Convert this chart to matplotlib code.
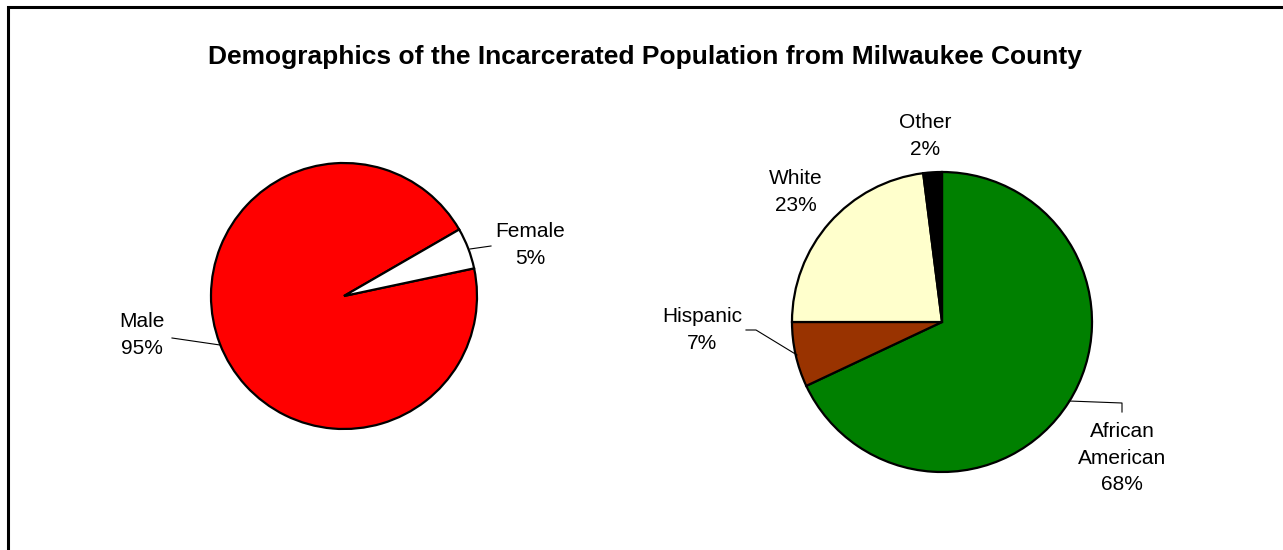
import matplotlib
matplotlib.use("Agg")
import matplotlib.pyplot as plt

plt.rcParams['font.family'] = ['Liberation Sans', 'DejaVu Sans']

title = "Demographics of the Incarcerated Population from Milwaukee County"

gender_labels = ["Male", "Female"]
gender_values = [95, 5]
gender_colors = ["#FF0000", "#FFFFFF"]

race_labels = ["African\nAmerican", "Hispanic", "White", "Other"]
race_values = [68, 7, 23, 2]
race_colors = ["#008000", "#993300", "#FFFFCC", "#000000"]

W, H = 1283, 550
fig = plt.figure(figsize=(W / 100, H / 100), dpi=100)
ax = fig.add_axes([0, 0, 1, 1])

def Y(y):
    return H - y

# left pie: Male/Female
ax.pie(gender_values, center=(344, Y(296)), radius=133, startangle=30,
       counterclock=True, colors=gender_colors,
       wedgeprops=dict(edgecolor="black", linewidth=1.6))

# right pie: race
ax.pie(race_values, center=(942, Y(322)), radius=150, startangle=90,
       counterclock=False, colors=race_colors,
       wedgeprops=dict(edgecolor="black", linewidth=1.6))

fs = 15
ls = 1.5
gender_pos = [(142, 335), (530, 245)]
for lab, v, (x, y) in zip(gender_labels, gender_values, gender_pos):
    ax.text(x, Y(y), f"{lab}\n{v}%", ha="center", va="center", fontsize=fs,
            linespacing=ls)

race_pos = [(1122, 458), (702, 330), (796, 192), (925, 136)]
for lab, v, (x, y) in zip(race_labels, race_values, race_pos):
    ax.text(x, Y(y), f"{lab}\n{v}%", ha="center", va="center", fontsize=fs,
            linespacing=ls)

# leader lines
lk = dict(color="black", linewidth=0.8)
ax.plot([470, 491], [Y(249), Y(246)], **lk)
ax.plot([172, 220], [Y(338), Y(345)], **lk)
ax.plot([746, 756, 797], [Y(330), Y(330), Y(355)], **lk)
ax.plot([1069, 1122, 1122], [Y(401), Y(403), Y(412)], **lk)

# title
ax.text(645, Y(57), title, ha="center", va="center", fontsize=19,
        fontweight="bold")

# chart area border (extends beyond the image on right/bottom)
ax.plot([8, 8, W + 20], [-20, Y(7), Y(7)], color="black", linewidth=2.2,
        solid_joinstyle="miter", clip_on=False)

ax.set_xlim(0, W)
ax.set_ylim(0, H)
ax.set_aspect("auto")
ax.axis("off")

fig.savefig("out.png", dpi=100)
